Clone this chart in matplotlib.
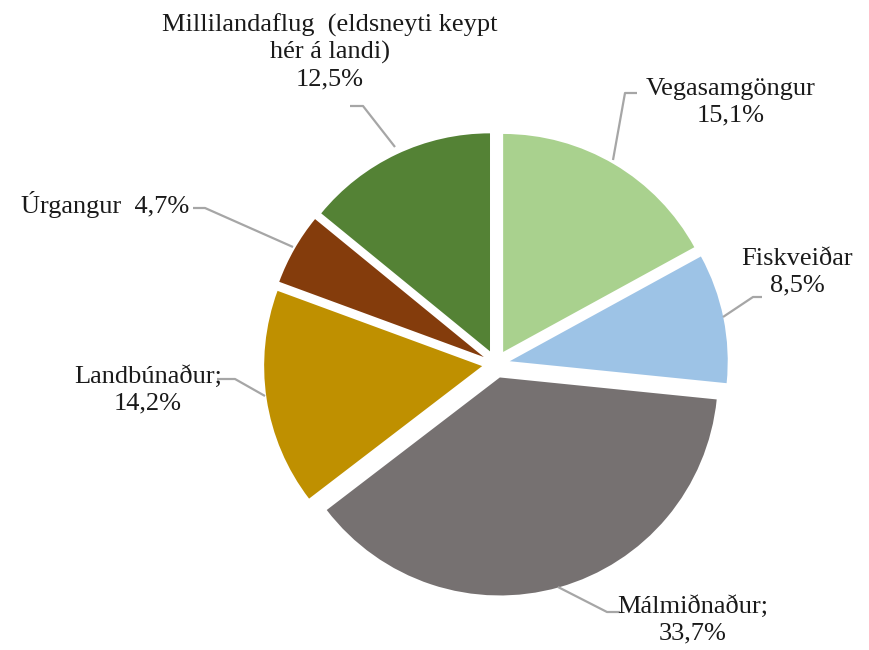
import matplotlib
matplotlib.use("Agg")
import matplotlib.pyplot as plt

# ── Data ──────────────────────────────────────────────────────────────────────
labels = ["Vegasamgöngur", "Fiskveiðar", "Málmiðnaður", "Landbúnaður",
          "Úrgangur", "Millilandaflug (eldsneyti keypt hér á landi)"]
shares = [15.1, 8.5, 33.7, 14.2, 4.7, 12.5]
label_texts = [
    "Vegasamgöngur\n15,1%",
    "Fiskveiðar\n8,5%",
    "Málmiðnaður;\n33,7%",
    "Landbúnaður;\n14,2%",
    "Úrgangur  4,7%",
    "Millilandaflug  (eldsneyti keypt\nhér á landi)\n12,5%",
]
colors = ["#A9D18E", "#9DC3E6", "#767171", "#BF9000", "#843C0C", "#548235"]

W, H = 869, 650
fig = plt.figure(figsize=(W / 100, H / 100), dpi=100)
ax = fig.add_axes([0, 0, 1, 1])

R = 218
cx, cy = 496, H - 364
# explode is in data units (pixels here)
ax.pie(shares, colors=colors, startangle=90, counterclock=False,
       explode=[14] * len(shares), radius=R, center=(cx, cy),
       wedgeprops=dict(linewidth=0))

ax.set_xlim(0, W)
ax.set_ylim(0, H)
ax.set_aspect("equal")
ax.axis("off")

# label placement (pixel coords, y from top) and leader lines
label_pos = [(731, 102), (797, 272), (693, 620), (148, 390), (105, 205), (330, 52)]
leaders = [
    [(637, 93), (625, 93), (613, 160)],
    [(762, 297), (753, 297), (723, 317)],
    [(620, 612), (607, 612), (558, 587)],
    [(217, 379), (235, 379), (265, 396)],
    [(193, 208), (205, 208), (293, 247)],
    [(350, 106), (363, 106), (395, 147)],
]

for txt, (px, py) in zip(label_texts, label_pos):
    ax.text(px, H - py, txt, ha="center", va="center", fontsize=19,
            family=["Liberation Serif", "DejaVu Serif"], color="#1a1a1a",
            linespacing=1.25)

for pts in leaders:
    ax.plot([p[0] for p in pts], [H - p[1] for p in pts], color="#A6A6A6",
            lw=1.6, solid_capstyle="butt")

fig.savefig("out.png", dpi=100, facecolor="white")
